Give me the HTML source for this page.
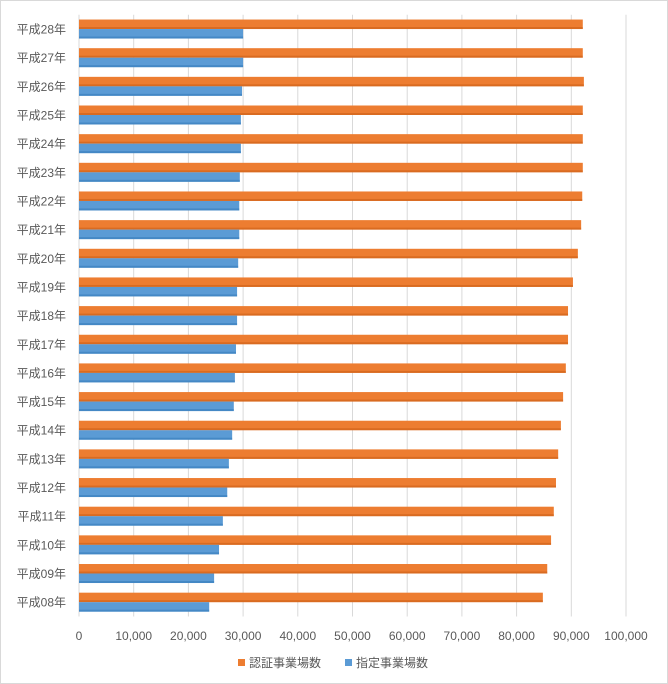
<!DOCTYPE html>
<html><head><meta charset="utf-8"><style>
body{margin:0;background:#fff;}
svg{display:block;font-family:"Liberation Sans","Noto Sans CJK JP",sans-serif;}
</style></head><body>
<svg id="chart" width="668" height="684">
<rect x="0.5" y="0.5" width="667" height="683" fill="#fff" stroke="#d9d9d9"/>
<g id="grid"></g><g id="bars"></g><g id="labels"></g>
<g>
<rect x="238" y="659" width="7" height="7" fill="#ed7d31"/>
<text x="249" y="667" font-size="12" fill="#595959">認証事業場数</text>
<rect x="345" y="659" width="7" height="7" fill="#5b9bd5"/>
<text x="356" y="667" font-size="12" fill="#595959">指定事業場数</text>
</g>
</svg>
<script>
const categories=["平成28年","平成27年","平成26年","平成25年","平成24年","平成23年","平成22年","平成21年","平成20年","平成19年","平成18年","平成17年","平成16年","平成15年","平成14年","平成13年","平成12年","平成11年","平成10年","平成09年","平成08年"];
const certified=[92100,92100,92300,92100,92100,92100,92000,91800,91200,90300,89400,89400,89000,88500,88100,87600,87200,86800,86300,85600,84800];
const designated=[30000,30000,29800,29600,29600,29400,29300,29300,29100,28900,28900,28700,28500,28300,28000,27400,27100,26300,25600,24700,23800];
const ticks=[0,10000,20000,30000,40000,50000,60000,70000,80000,90000,100000];
const tickLabels=["0","10,000","20,000","30,000","40,000","50,000","60,000","70,000","80,000","90,000","100,000"];
const NS="http://www.w3.org/2000/svg";
const x0=79,x1=626,plotTop=14.7,plotBottom=616.5;
const xs=v=>x0+(v/100000)*(x1-x0);
const band=(plotBottom-plotTop)/categories.length;
const yc=i=>plotTop+band*(i+0.5);
function mk(t,a,p){const e=document.createElementNS(NS,t);for(const k in a)e.setAttribute(k,a[k]);p.appendChild(e);return e;}
const g=document.getElementById('grid'),b=document.getElementById('bars'),l=document.getElementById('labels');
ticks.forEach((t,i)=>{
 const ln=mk('line',{x1:xs(t),x2:xs(t),y1:plotTop,y2:plotBottom,stroke:'#d9d9d9','stroke-width':1},g);
 
 
 const tx=mk('text',{x:xs(t),y:640,'font-size':12,fill:'#595959','text-anchor':'middle'},l);
 tx.textContent=tickLabels[i];
 
 
});
const bh=9.5;
categories.forEach((c,i)=>{
 const y=yc(i);
 const r1=mk('rect',{x:x0,y:y-bh,width:xs(certified[i])-x0,height:bh,fill:'#ed7d31'},b);
 
 
 const s1=mk('rect',{x:x0,y:y-2,width:xs(certified[i])-x0,height:2,fill:'#c55a11',opacity:0.5},b);
 
 
 const r2=mk('rect',{x:x0,y:y,width:xs(designated[i])-x0,height:bh,fill:'#5b9bd5'},b);
 
 
 const s2=mk('rect',{x:x0,y:y+bh-2,width:xs(designated[i])-x0,height:2,fill:'#2e75b6',opacity:0.5},b);
 
 
 const t=mk('text',{x:66,y:y+4.5,'font-size':12,fill:'#595959','text-anchor':'end'},l);
 t.textContent=c;
 
 
});
</script>
</body></html>
